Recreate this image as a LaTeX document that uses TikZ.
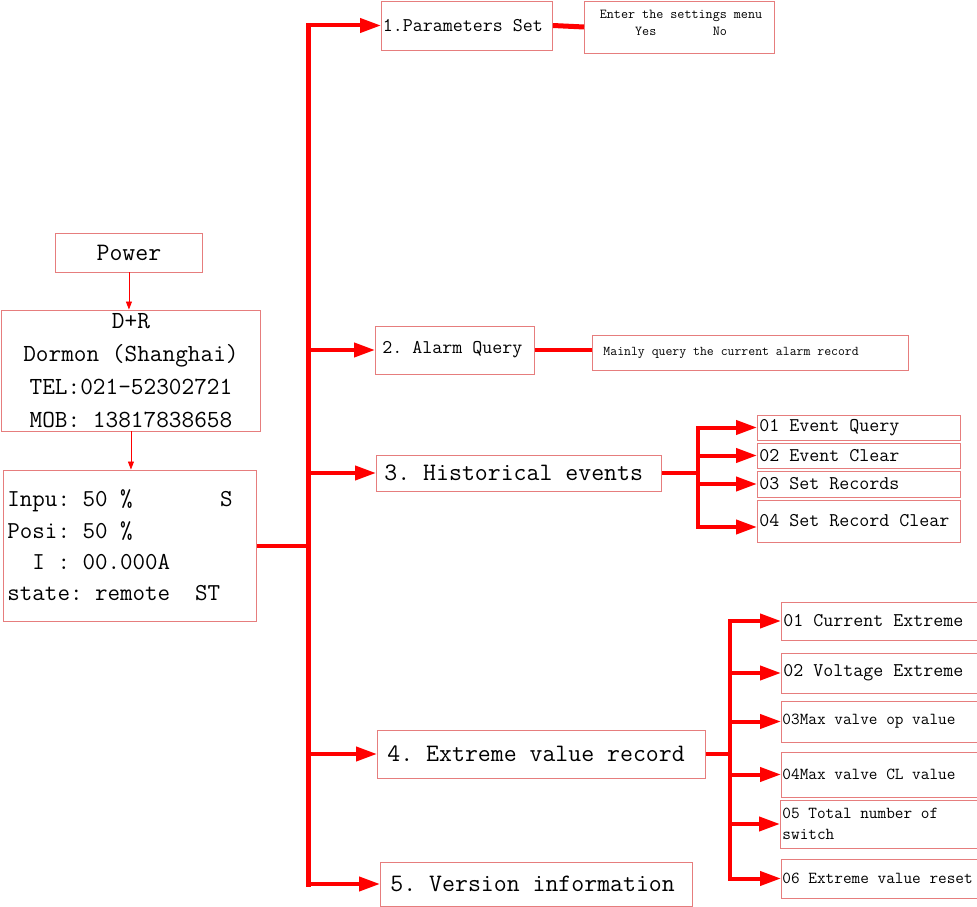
\documentclass[tikz,border=0pt]{standalone}
\usepackage{fontspec}
\usetikzlibrary{arrows.meta}
\definecolor{linkred}{RGB}{255,0,0}
\definecolor{boxred}{RGB}{230,125,125}
% typewriter face at a given size and line spacing
\newcommand\setfz[2]{\ttfamily\fontsize{#1}{#2}\selectfont}
\begin{document}
\frenchspacing
\begin{tikzpicture}[x=1pt,y=-1pt,
  % ragged text in fixed-width boxes keeps full character-wide spaces
  box/.style={draw=boxred, line width=0.9pt, rectangle, inner ysep=0pt, align=left, anchor=west,
    execute at begin node={\spaceskip=\fontdimen2\font\relax\xspaceskip=\fontdimen2\font\relax}},
  link/.style={draw=linkred, line width=4pt},
  trunk/.style={draw=linkred, line width=5pt, line cap=rect},
  branch/.style={draw=linkred, line width=4pt, -{Triangle[length=21pt,width=14pt]}},
  feed/.style={draw=linkred, line width=0.8pt, -{Triangle[length=8pt,width=6pt]}},
  big/.style={font=\setfz{25.1}{29}},
  mid/.style={font=\setfz{19.4}{22}},
  small/.style={font=\setfz{16.8}{21}},
  tiny/.style={font=\setfz{13.7}{17}}]
\path[use as bounding box] (0,0) rectangle (977,907);

% start-up screens
\node[box, big, align=center, inner xsep=2pt, text width=143pt, minimum height=39pt] (power) at (55,252.5) {Power};
\node[box, align=center, font=\setfz{24.6}{33}, inner xsep=2pt, text width=255pt, minimum height=121pt] (dr) at (1,370.5)
  {D+R\\Dormon (Shanghai)\\TEL:021-52302721\\MOB:~13817838658};
\node[box, font=\setfz{24.3}{31.3}, inner xsep=4pt, text width=245pt, minimum height=151pt] (disp) at (3,545.5)
  {Inpu:~50~\%~~~~~~~S\\Posi:~50~\%\\\mbox{}~~I~:~00.000A\\state:~remote~~ST};

% main menu
\node[box, mid, inner xsep=1.5pt, text width=168pt, minimum height=49pt] (p1) at (381,25.5) {1.Parameters Set};
\node[box, mid, inner xsep=7pt, text width=145pt, minimum height=48pt] (p2) at (375,350) {2. Alarm Query};
\node[box, big, inner xsep=8pt, text width=269pt, minimum height=36pt] (p3) at (376,473) {3. Historical events};
\node[box, big, inner xsep=10pt, text width=308pt, minimum height=48pt] (p4) at (377,754) {4. Extreme value record};
\node[box, big, inner xsep=10pt, text width=292pt, minimum height=44pt] (p5) at (380,884) {5. Version information};

% parameter settings and alarm query
\node[box, minimum width=190pt, minimum height=52pt] (set) at (584,27) {};
\node[tiny, align=left, inner sep=0pt] (settxt) at (681,22.5) {Enter the settings menu\\\mbox{}~~~~~Yes~~~~~~~~No};
\node[box, font=\setfz{13.4}{16}, inner xsep=11pt, text width=294pt, minimum height=35pt] (alarm) at (592,352.5) {Mainly query the current alarm record};

% historical events
\node[box, mid, inner xsep=2pt, text width=199pt, minimum height=25pt] (e1) at (757,427.5) {01 Event Query};
\node[box, mid, inner xsep=2pt, text width=199pt, minimum height=25pt] (e2) at (757,455.5) {02 Event Clear};
\node[box, mid, inner xsep=2pt, text width=199pt, minimum height=26pt] (e3) at (757,484) {03 Set Records};
\node[box, mid, inner xsep=2pt, text width=199pt, minimum height=42pt] (e4) at (757,521) {04 Set Record Clear};

% extreme value records
\node[box, mid, inner xsep=2pt, text width=193pt, minimum height=38pt] (x1) at (781,621) {01 Current Extreme};
\node[box, mid, inner xsep=2pt, text width=193pt, minimum height=40pt] (x2) at (781,673) {02 Voltage Extreme};
\node[box, small, inner xsep=1pt, text width=196pt, minimum height=41pt] (x3) at (781,721.5) {03Max valve op value};
\node[box, small, inner xsep=1pt, text width=196pt, minimum height=45pt] (x4) at (781,774.5) {04Max valve CL value};
\node[box, small, inner xsep=2pt, text width=195pt, minimum height=48pt] (x5) at (780,824) {05 Total number of\\switch};
\node[box, small, inner xsep=1pt, text width=196pt, minimum height=39pt] (x6) at (781,878.5) {06 Extreme value reset};

% start-up sequence
\draw[feed] (power.south) -- (power.south |- dr.north);
\draw[feed] (dr.south) -- (dr.south |- disp.north);

% main trunk
\coordinate (tk) at (308,545.5);
\draw[link] (disp.east) -- (tk);
\draw[trunk] (tk |- p1.west) -- (tk |- p5.west);
\foreach \n in {p1,p2,p3,p4,p5} \draw[branch] (tk |- \n.west) -- (\n.west);

\draw[link, line width=5pt] (p1.east) -- (set.west);
\draw[link] (p2.east) -- (p2.east -| alarm.west);

% historical events branch
\coordinate (hk) at (698,473);
\coordinate (e4in) at ([yshift=-6pt]e4.west);
\draw[link] (p3.east) -- (hk);
\draw[trunk, line width=4pt] (hk |- e1.west) -- (hk |- e4in);
\foreach \n in {e1,e2,e3,e4in} \draw[branch] (hk |- \n) -- (\n);

% extreme value branch
\coordinate (vk) at (730,754);
\draw[link] (p4.east) -- (vk);
\draw[trunk, line width=4pt] (vk |- x1.west) -- (vk |- x6.west);
\foreach \n in {x1,x2,x3,x4,x5,x6} \draw[branch] (vk |- \n.west) -- (\n.west);
\end{tikzpicture}
\end{document}
